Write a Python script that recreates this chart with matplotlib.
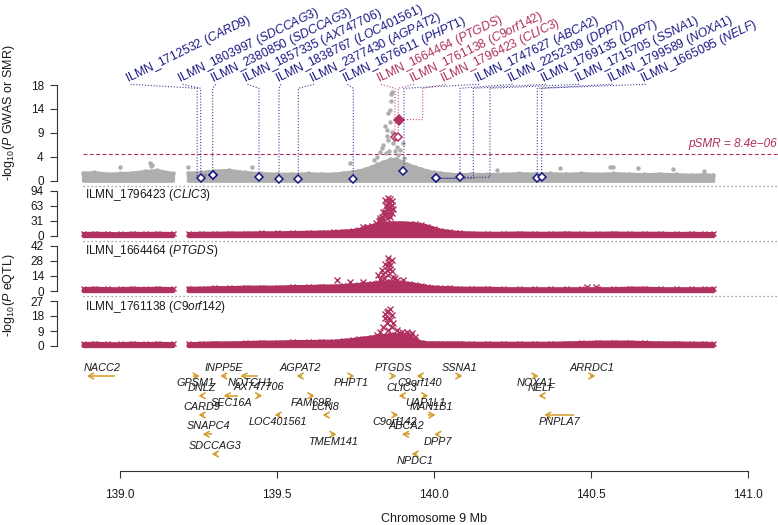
import numpy as np
import matplotlib
matplotlib.use("Agg")
import matplotlib.pyplot as plt

plt.rcParams['font.family'] = ['Liberation Sans', 'DejaVu Sans']
plt.rcParams['mathtext.fontset'] = 'custom'
plt.rcParams['mathtext.rm'] = 'Liberation Sans'
plt.rcParams['mathtext.it'] = 'Liberation Sans:italic'
plt.rcParams['mathtext.bf'] = 'Liberation Sans:bold'
plt.rcParams['mathtext.default'] = 'regular'

nan = float('nan')

# ======================= data =======================
# SNP positions (Mb) at which the upper edge of the dense SNP clouds was read (NaN = gap without SNPs)
snp_x = [138.884, 138.92, 138.96, 139.00, 139.04, 139.08, 139.12, 139.17, nan,
         139.218, 139.26, 139.30, 139.35, 139.40, 139.45, 139.50, 139.55, 139.60,
         139.64, 139.68, 139.71, 139.74, 139.76, 139.78, 139.80, 139.82, 139.84,
         139.86, 139.88, 139.90, 139.92, 139.94, 139.96, 139.98, 140.00, 140.02,
         140.05, 140.08, 140.12, 140.17, 140.22, 140.27, 140.32, 140.37, 140.42,
         140.47, 140.52, 140.57, 140.62, 140.67, 140.72, 140.77, 140.82, 140.86,
         140.889]
# -log10(P GWAS), upper edge of the dense cloud
gwas_top = [1.5, 1.6, 1.3, 1.4, 1.5, 1.8, 2.0, 1.4, nan,
            1.5, 1.6, 1.9, 2.0, 1.6, 1.4, 1.3, 1.3, 1.4,
            1.3, 1.3, 1.5, 1.7, 1.9, 2.2, 2.6, 3.1, 3.6,
            4.0, 4.1, 3.6, 3.0, 2.6, 2.2, 1.9, 1.6, 1.5,
            1.3, 1.2, 1.3, 1.2, 1.3, 1.4, 1.3, 1.4, 1.3,
            1.4, 1.3, 1.4, 1.3, 1.2, 1.3, 1.2, 1.1, 1.2,
            1.1]
# individual GWAS SNPs standing out of the cloud
gwas_hi_x = [139.834, 139.839, 139.855, 139.866, 139.850, 139.861, 139.855, 139.861,
             139.863, 139.863, 139.866, 139.871, 139.882, 139.893, 139.903, 139.845,
             139.851, 139.858, 139.847, 139.829, 139.877, 139.820, 139.885, 139.810,
             139.905, 139.097, 139.103, 139.002, 139.100, 139.218, 139.733, 139.422,
             140.401, 140.570, 140.560, 140.200, 140.650, 140.760, 140.860]
gwas_hi_y = [6.1, 6.7, 7.6, 9.2, 9.5, 11.1, 12.7, 13.3,
             14.9, 16.4, 16.7, 7.0, 6.4, 5.8, 7.0, 10.2,
             8.5, 5.5, 5.3, 5.4, 5.6, 4.5, 4.8, 3.9,
             4.2, 3.3, 2.9, 2.6, 2.8, 2.6, 3.4, 2.6,
             2.3, 2.6, 2.6, 2.0, 2.3, 2.2, 1.9]
p_smr_threshold = 8.4e-06

# SMR probes
probe_id = ['ILMN_1712532', 'ILMN_1803997', 'ILMN_2380850', 'ILMN_1857335', 'ILMN_1838767',
            'ILMN_2377430', 'ILMN_1676611', 'ILMN_1664464', 'ILMN_1761138', 'ILMN_1796423',
            'ILMN_1747627', 'ILMN_2252309', 'ILMN_1769135', 'ILMN_1715705', 'ILMN_1799589',
            'ILMN_1665095']
probe_gene = ['CARD9', 'SDCCAG3', 'SDCCAG3', 'AX747706', 'LOC401561', 'AGPAT2', 'PHPT1',
              'PTGDS', 'C9orf142', 'CLIC3', 'ABCA2', 'DPP7', 'DPP7', 'SSNA1', 'NOXA1', 'NELF']
probe_pos = [139.258, 139.2966, 139.2966, 139.444, 139.5076, 139.569, 139.744, 139.8767,
             139.8872, 139.8894, 139.9013, 140.0072, 140.0072, 140.0835, 140.3295, 140.3435]
probe_smr = [0.45, 1.07, 1.07, 0.64, 0.32, 0.32, 0.32, 8.3, 8.3, 11.5, 1.88, 0.45, 0.45,
             0.64, 0.45, 0.75]
probe_sig = [False] * 7 + [True, True, True] + [False] * 6
probe_heidi = [False] * 9 + [True] + [False] * 6

# eQTL panels
eqtl_probe = ['ILMN_1796423', 'ILMN_1664464', 'ILMN_1761138']
eqtl_gene = ['CLIC3', 'PTGDS', 'C9orf142']
eqtl_ymax = [94, 42, 27]
eqtl1_top = [6, 6.5, 6, 5.5, 6.5, 6, 6.5, 6, nan,
             6, 6.5, 6.5, 7, 7, 7.5, 7.5, 8, 8.5,
             9, 9.5, 11, 12, 14, 18, 22, 25, 27,
             28, 28, 28, 27, 26, 24, 21, 17, 13,
             10, 8, 7, 6.5, 6.5, 7, 6.5, 6.5, 7,
             6.5, 6.5, 7, 6.5, 6.5, 6.5, 6, 6.5, 6,
             6]
eqtl2_top = [2.5, 3, 2.5, 2.5, 3, 2.5, 3, 2.5, nan,
             3, 3, 3.5, 3.5, 4, 4, 4, 4.5, 4.5,
             5, 5, 5.5, 6, 6.5, 7, 7.5, 8, 8.5,
             9, 8.5, 8, 7.5, 6.5, 5.5, 4.5, 4, 3.5,
             3.5, 3, 3, 3, 2.5, 2.5, 2.5, 2.5, 2.5,
             2.5, 2.5, 2.5, 3, 3, 2.5, 2.5, 2.5, 2.5,
             2.5]
eqtl3_top = [1.6, 1.9, 1.6, 1.6, 1.9, 1.6, 1.9, 1.6, nan,
             1.6, 1.9, 2.1, 2.1, 2.3, 2.6, 2.6, 2.9, 2.9,
             3.1, 3.1, 3.6, 4.1, 4.6, 5.1, 5.6, 6.1, 6.6,
             7, 7, 6.6, 6.1, 4.1, 2.6, 2.1, 2.1, 2.1,
             2.1, 2.1, 1.9, 1.9, 1.9, 1.9, 1.9, 1.9, 2.1,
             2.3, 2.6, 2.6, 2.6, 2.3, 2.1, 2.1, 1.9, 1.9,
             1.6]
eqtl1_hi_x = [139.845, 139.861, 139.855, 139.866, 139.850, 139.861, 139.839, 139.845, 139.834,
              139.829, 139.850, 139.866, 139.855, 139.845, 139.861, 139.829, 139.775, 139.787,
              139.850, 139.858, 139.840, 139.852, 139.862, 139.866, 139.870, 139.858, 139.848,
              139.835, 139.826, 139.815]
eqtl1_hi_y = [74.7, 76, 68, 64, 57, 54, 50, 43.6, 40,
              33, 64, 73, 78, 50, 60, 37, 19, 19,
              47, 45, 36, 38, 40, 48, 56, 70, 62,
              30, 31, 28]
eqtl2_hi_x = [139.855, 139.866, 139.845, 139.861, 139.850, 139.866, 139.839, 139.855, 139.871,
              139.829, 139.845, 139.882, 139.824, 139.834, 139.858, 139.850, 139.862, 139.842,
              139.876, 139.691, 139.733, 139.775, 139.902, 140.487, 140.515]
eqtl2_hi_y = [30.8, 28.6, 25.5, 24, 20, 18.4, 16.2, 14.6, 13,
              11.5, 8.4, 10, 14.6, 19.3, 27, 23, 21, 12,
              12, 10.3, 8.7, 8.7, 10.3, 3.5, 3.5]
eqtl3_hi_x = [139.861, 139.850, 139.866, 139.845, 139.861, 139.850, 139.839, 139.866, 139.855,
              139.882, 139.898, 139.914, 139.930, 139.940, 139.924, 139.893, 139.829, 139.818,
              139.855, 139.858, 139.845, 139.870, 139.905, 139.918, 139.928, 139.888]
eqtl3_hi_y = [22, 20.6, 18.6, 16.6, 15.6, 13.6, 11.6, 11.6, 9.6,
              9.6, 8.6, 8.6, 7.6, 5.6, 3.6, 4.6, 8.6, 6.6,
              21, 17, 19, 14, 7.5, 7, 6, 8]

# genes (Mb)
gene_name = ['NACC2', 'INPP5E', 'NOTCH1', 'GPSM1', 'AGPAT2', 'PHPT1', 'DNLZ', 'AX747706',
             'SEC16A', 'FAM69B', 'CARD9', 'LCN8', 'LOC401561', 'SNAPC4', 'TMEM141', 'SDCCAG3',
             'PTGDS', 'C9orf140', 'CLIC3', 'UAP1L1', 'MAN1B1', 'C9orf142', 'ABCA2', 'NPDC1',
             'DPP7', 'SSNA1', 'NOXA1', 'NELF', 'PNPLA7', 'ARRDC1']
gene_start = [138.901, 139.325, 139.389, 139.235, 139.568, 139.733, 139.256, 139.437,
              139.336, 139.606, 139.256, 139.651, 139.498, 139.269, 139.673, 139.298,
              139.865, 139.950, 139.893, 139.966, 139.982, 139.870, 139.903, 139.934,
              140.006, 140.074, 140.316, 140.338, 140.356, 140.497]
gene_end = [138.986, 139.339, 139.442, 139.251, 139.581, 139.743, 139.266, 139.450,
            139.378, 139.616, 139.269, 139.660, 139.510, 139.294, 139.686, 139.310,
            139.877, 139.963, 139.904, 139.978, 140.001, 139.883, 139.924, 139.947,
            140.017, 140.087, 140.329, 140.349, 140.446, 140.510]
gene_strand = ['-', '-', '-', '+', '-', '+', '-', '+',
               '-', '+', '-', '-', '-', '-', '+', '-',
               '+', '-', '-', '+', '+', '+', '-', '-',
               '-', '+', '+', '-', '-', '+']

x_ticks = [139.0, 139.5, 140.0, 140.5, 141.0]
x_ticklabels = ['139.0', '139.5', '140.0', '140.5', '141.0']

# ======================= layout / style =======================
NAVY = '#1a1a86'
MAROON = '#B03060'
GREY = '#AEAEAE'
GOLD = '#D49A2A'
AXC = '#333333'
TXT = '#1a1a1a'

W, H = 778, 525
fig = plt.figure(figsize=(W / 100, H / 100), dpi=100)

AX_L, AX_R = 57, 778
X0_PX, PX_PER_MB = 119.5, 314.25
xlim = (139 + (AX_L - X0_PX) / PX_PER_MB, 139 + (AX_R - X0_PX) / PX_PER_MB)


def add_panel(py_top, py_bot):
    ax = fig.add_axes([AX_L / W, 1 - py_bot / H, (AX_R - AX_L) / W, (py_bot - py_top) / H])
    ax.set_xlim(xlim)
    ax.patch.set_alpha(0)
    return ax


def style_y(ax, py_top, py_bot, py_zero, py_max, ymax, nticks):
    k = (py_zero - py_max) / ymax
    ax.set_ylim((py_zero - py_bot) / k, ymax + (py_max - py_top) / k)
    for s in ['top', 'right', 'bottom']:
        ax.spines[s].set_visible(False)
    ax.spines['left'].set_bounds(0, ymax)
    ax.spines['left'].set_linewidth(0.8)
    ax.spines['left'].set_color(AXC)
    ax.set_xticks([])
    t = np.linspace(0, ymax, nticks)
    ax.set_yticks(t)
    ax.set_yticklabels([str(int(round(v))) for v in t])
    ax.tick_params(axis='y', length=5, width=0.8, pad=4.5, labelsize=8.5,
                   color=AXC, labelcolor=TXT)


def segments(xs, ys):
    xs = np.asarray(xs, float); ys = np.asarray(ys, float)
    ok = np.isfinite(xs) & np.isfinite(ys)
    segs, cur = [], []
    for i in range(len(xs)):
        if ok[i]:
            cur.append(i)
        elif cur:
            segs.append(cur); cur = []
    if cur:
        segs.append(cur)
    return [(xs[s], ys[s]) for s in segs]


def draw_band(ax, xs, ys, color, marker, ms, mew):
    for sx, sy in segments(xs, ys):
        ax.fill_between(sx, 0, sy, color=color, lw=2.4, edgecolor=color, zorder=2)
    ax.plot(xs, ys, ls='none', marker=marker, ms=ms, color=color, mew=mew, zorder=2)


panel_px = [(85, 185.7, 180.7, 85, 18),
            (185.7, 240.7, 236, 190.7, 94),
            (240.7, 296, 291, 246, 42),
            (296, 351, 346, 301, 27)]

# ---------- GWAS / SMR panel ----------
pt, pb, pz, pm, ym = panel_px[0]
ax0 = add_panel(pt, pb)
style_y(ax0, pt, pb, pz, pm, ym, 5)
draw_band(ax0, snp_x, gwas_top, GREY, 'o', 3.2, 0)
ax0.plot(gwas_hi_x, gwas_hi_y, 'o', ms=3.2, color=GREY, mec='none', zorder=2)
ythr = -np.log10(p_smr_threshold)
ax0.plot([snp_x[0], xlim[1]], [ythr, ythr], color=MAROON, lw=0.8, ls=(0, (3.5, 2.2)), zorder=1)
ax0.plot([snp_x[0], xlim[1]], [ax0.get_ylim()[0]] * 2, color='#8a8a8a', lw=0.9,
         ls=(0, (1, 2.2)), clip_on=False)
fig.text(777 / W, 1 - 146.7 / H, ('pSMR = %.1e' % p_smr_threshold).replace('-', '\u2212'),
         ha='right', va='baseline', style='italic', color=MAROON, fontsize=8.5)

# probe labels + connectors (pixel layout)
label_px = [128, 180, 213.3, 245, 278.3, 311.7, 345, 378.5, 411.7, 443.3, 476.7, 510,
            543.3, 576.7, 610, 643.3]
knee_shift_px = [-3.4, -12, 0, 0, 0, 0, 0, 0, 0, 23.7, 1.3, 24, 37.3, 30, 0, 0]
LABEL_BASE_PY, KNEE_PY = 83, 88.3
inv = ax0.transData.inverted()


def px2d(px, py):
    return inv.transform((px, H - py))


for i in range(len(probe_id)):
    col = MAROON if probe_sig[i] else NAVY
    dxp, dyp = ax0.transData.transform((probe_pos[i], probe_smr[i]))
    dpy = H - dyp
    kx = dxp + knee_shift_px[i]
    path = [(label_px[i] + 2.5, LABEL_BASE_PY + 1.3), (kx, KNEE_PY), (kx, dpy)]
    if knee_shift_px[i] != 0:
        path.append((dxp, dpy))
    pts = np.array([px2d(*p) for p in path])
    ax0.plot(pts[:, 0], pts[:, 1], ls=(0, (1, 1.6)), lw=0.8, color=col, clip_on=False,
             zorder=3, alpha=0.85)
    lx, ly = px2d(label_px[i], LABEL_BASE_PY)
    ax0.text(lx, ly, probe_id[i] + ' ($\\mathit{' + probe_gene[i] + '}$)', rotation=26,
             rotation_mode='anchor', ha='left', va='baseline', fontsize=8.8, color=col,
             clip_on=False)

for i in range(len(probe_id)):
    col = MAROON if probe_sig[i] else NAVY
    face = col if probe_heidi[i] else 'white'
    ms = 4.6 if probe_heidi[i] else 4.2
    ax0.plot(probe_pos[i], probe_smr[i], marker='D', ms=ms, mfc=face, mec=col, mew=1.1,
             ls='none', zorder=5, clip_on=False)

# ---------- eQTL panels ----------
eqtl_tops = [eqtl1_top, eqtl2_top, eqtl3_top]
eqtl_hx = [eqtl1_hi_x, eqtl2_hi_x, eqtl3_hi_x]
eqtl_hy = [eqtl1_hi_y, eqtl2_hi_y, eqtl3_hi_y]
title_py = [195, 251, 306.7]
for j in range(3):
    pt, pb, pz, pm, ym = panel_px[j + 1]
    ax = add_panel(pt, pb)
    style_y(ax, pt, pb, pz, pm, eqtl_ymax[j], 4)
    draw_band(ax, snp_x, eqtl_tops[j], MAROON, 'x', 3.6, 1.0)
    ax.plot(eqtl_hx[j], eqtl_hy[j], 'x', ms=3.8, mew=1.0, color=MAROON, zorder=3)
    if j < 2:
        ax.plot([snp_x[0], xlim[1]], [ax.get_ylim()[0]] * 2, color='#8a8a8a', lw=0.9,
                ls=(0, (1, 2.2)), clip_on=False)
    fig.text(85 / W, 1 - title_py[j] / H, eqtl_probe[j] + ' ($\\mathit{' + eqtl_gene[j] + '}$)',
             va='center', ha='left', fontsize=8.5, color=TXT)

# ---------- gene track ----------
gene_row_py = [376, 376, 376, 376, 376, 376, 395.7, 395.7, 395.7, 395.7, 415, 415, 415,
               434.3, 434.3, 454, 376, 376, 395.7, 395.7, 415, 415, 434.3, 454, 434.3,
               376, 376, 395.7, 415, 376]
gene_label_py = [368.3, 368.3, 383.3, 383.3, 368.3, 383.3, 388.3, 387.3, 403.3, 403.3,
                 407.3, 406.7, 421.7, 426, 441.7, 445.7, 368.3, 383.3, 387.7, 402.7, 407.3,
                 421.7, 426, 461, 442.3, 368.3, 383.3, 388.3, 421.7, 368.3]
axg = add_panel(351, 470.7)
axg.set_ylim(470.7, 351)
for s in ['top', 'right', 'left']:
    axg.spines[s].set_visible(False)
axg.spines['bottom'].set_bounds(x_ticks[0], x_ticks[-1])
axg.spines['bottom'].set_linewidth(0.8)
axg.spines['bottom'].set_color(AXC)
axg.set_yticks([])
axg.set_xticks(x_ticks)
axg.set_xticklabels(x_ticklabels)
axg.tick_params(axis='x', length=5, width=0.8, pad=8, labelsize=8.5, color=AXC, labelcolor=TXT)

hl = 5.0 / PX_PER_MB
hh = 2.7
for k in range(len(gene_name)):
    s, e, ry = gene_start[k], gene_end[k], gene_row_py[k]
    if gene_strand[k] == '+':
        tail, head, sg = s, e, 1
    else:
        tail, head, sg = e, s, -1
    axg.plot([tail, head], [ry, ry], color=GOLD, lw=1.1, solid_capstyle='butt')
    axg.plot([head - sg * hl, head, head - sg * hl], [ry - hh, ry, ry + hh], color=GOLD, lw=1.1)
    axg.text((s + e) / 2, gene_label_py[k], gene_name[k], ha='center', va='center',
             style='italic', fontsize=7.8, color=TXT)

fig.text(434 / W, 1 - 519 / H, 'Chromosome 9 Mb', ha='center', va='center', fontsize=9, color=TXT)
fig.text(9 / W, 1 - 181 / H, '-log$_{10}$($\\mathit{P}$ GWAS or SMR)', rotation=90,
         ha='center', va='bottom', fontsize=9, color=TXT)
fig.text(9 / W, 1 - 295 / H, '-log$_{10}$($\\mathit{P}$ eQTL)', rotation=90,
         ha='center', va='center', fontsize=9, color=TXT)

fig.savefig('out.png', dpi=100)
